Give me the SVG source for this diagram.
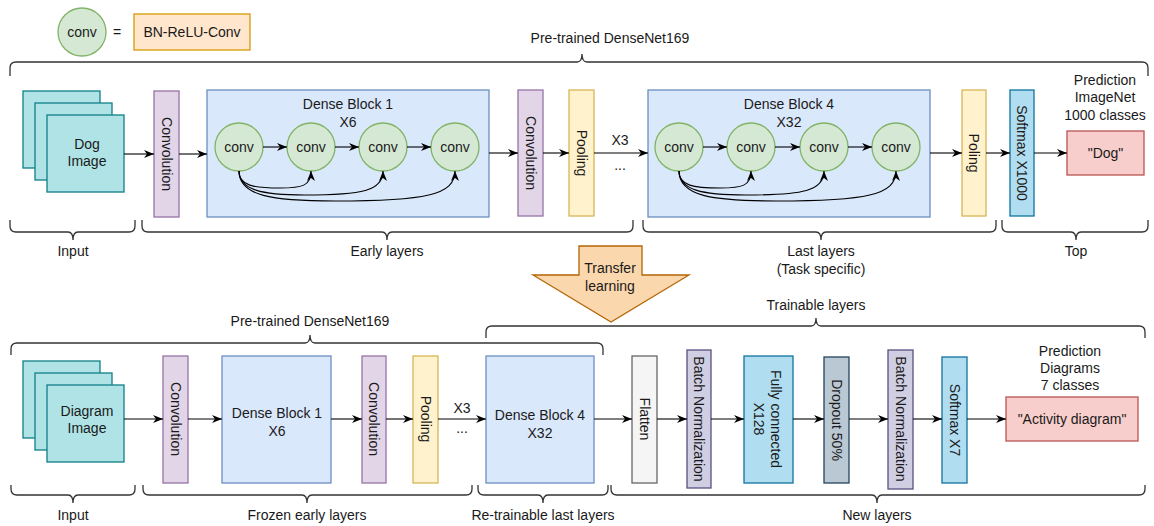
<svg xmlns="http://www.w3.org/2000/svg" width="1154" height="526" viewBox="0 0 1154 526">
  <defs>
    <marker id="arr" markerUnits="userSpaceOnUse" markerWidth="10" markerHeight="8" refX="10" refY="4" orient="auto">
      <path d="M0,0 L10,4 L0,8 L3,4 Z" fill="#000"/>
    </marker>
    <style>
      .t { font-family: "Liberation Sans", Arial, Helvetica, sans-serif; font-size: 14px; fill: #1a1a1a; text-anchor: middle; }
      .img { fill: #b0e3e6; stroke: #0e8088; stroke-width: 1.3; }
      .conv { fill: #e1d5e7; stroke: #9673a6; stroke-width: 1.3; }
      .dense { fill: #dae8fc; stroke: #6c8ebf; stroke-width: 1.3; }
      .cell { fill: #d5e8d4; stroke: #82b366; stroke-width: 1.3; }
      .pool { fill: #fff2cc; stroke: #d6b656; stroke-width: 1.3; }
      .legend { fill: #ffe6cc; stroke: #d79b00; stroke-width: 1.3; }
      .soft { fill: #b1ddf0; stroke: #10739e; stroke-width: 1.3; }
      .out { fill: #f8cecc; stroke: #b85450; stroke-width: 1.3; }
      .flat { fill: #f5f5f5; stroke: #666666; stroke-width: 1.3; }
      .bn { fill: #d0cee2; stroke: #56517e; stroke-width: 1.3; }
      .drop { fill: #bac8d3; stroke: #23445d; stroke-width: 1.3; }
      .brace { fill: none; stroke: #333333; stroke-width: 1.3; }
      .edge { fill: none; stroke: #000; stroke-width: 1.1; marker-end: url(#arr); }
    </style>
  </defs>

  <rect width="1154" height="526" fill="#ffffff"/>

  <!-- legend -->
  <g id="legend">
    <circle class="cell" cx="82" cy="32" r="24"/>
    <text class="t" x="82" y="37">conv</text>
    <text class="t" x="117" y="37">=</text>
    <rect class="legend" x="134" y="14" width="116" height="36"/>
    <text class="t" x="192" y="37">BN-ReLU-Conv</text>
  </g>

  <!-- ===== top row: DenseNet169 on ImageNet ===== -->
  <g id="brace-pretrained-top">
    <path class="brace" d="M10,76 L10,68 Q10,62 16,62 L577,62 Q582,62 582,54 Q582,62 587,62 L1142,62 Q1148,62 1148,68 L1148,76"/>
    <text class="t" x="610" y="43">Pre-trained DenseNet169</text>
  </g>

  <g id="dog-image">
    <rect class="img" x="23" y="91" width="77" height="77"/>
    <rect class="img" x="35" y="103" width="77" height="77"/>
    <rect class="img" x="47" y="115" width="77" height="77"/>
    <text class="t" x="87" y="149">Dog</text>
    <text class="t" x="87" y="166">Image</text>
  </g>

  <g id="top-conv1">
    <rect class="conv" x="154" y="91" width="25" height="126"/>
    <text class="t" transform="translate(166.5,154) rotate(90)" y="5">Convolution</text>
  </g>

  <g id="top-dense1">
    <rect class="dense" x="207" y="90" width="282" height="127"/>
    <text class="t" x="348" y="109">Dense Block 1</text>
    <text class="t" x="348" y="127">X6</text>
    <g id="d1-c1"><circle class="cell" cx="239" cy="147" r="24"/><text class="t" x="239" y="152">conv</text></g>
    <g id="d1-c2"><circle class="cell" cx="311" cy="147" r="24"/><text class="t" x="311" y="152">conv</text></g>
    <g id="d1-c3"><circle class="cell" cx="383" cy="147" r="24"/><text class="t" x="383" y="152">conv</text></g>
    <g id="d1-c4"><circle class="cell" cx="455" cy="147" r="24"/><text class="t" x="455" y="152">conv</text></g>
  </g>

  <g id="top-conv2">
    <rect class="conv" x="518" y="90" width="25" height="126"/>
    <text class="t" transform="translate(530.5,153) rotate(90)" y="5">Convolution</text>
  </g>

  <g id="top-pool">
    <rect class="pool" x="569" y="90" width="25" height="126"/>
    <text class="t" transform="translate(581.5,153) rotate(90)" y="5">Pooling</text>
  </g>

  <g id="top-repeat">
    <text class="t" x="620" y="145">X3</text>
    <text class="t" x="620" y="170">...</text>
  </g>

  <g id="top-dense4">
    <rect class="dense" x="648" y="90" width="282" height="127"/>
    <text class="t" x="789" y="109">Dense Block 4</text>
    <text class="t" x="789" y="127">X32</text>
    <g id="d4-c1"><circle class="cell" cx="679" cy="147" r="24"/><text class="t" x="679" y="152">conv</text></g>
    <g id="d4-c2"><circle class="cell" cx="751" cy="147" r="24"/><text class="t" x="751" y="152">conv</text></g>
    <g id="d4-c3"><circle class="cell" cx="824" cy="147" r="24"/><text class="t" x="824" y="152">conv</text></g>
    <g id="d4-c4"><circle class="cell" cx="896" cy="147" r="24"/><text class="t" x="896" y="152">conv</text></g>
  </g>

  <g id="top-poling">
    <rect class="pool" x="962" y="90" width="24" height="126"/>
    <text class="t" transform="translate(974,153) rotate(90)" y="5">Poling</text>
  </g>

  <g id="top-softmax">
    <rect class="soft" x="1010" y="90" width="24" height="126"/>
    <text class="t" transform="translate(1022,153) rotate(90)" y="5">Softmax X1000</text>
  </g>

  <g id="top-prediction">
    <text class="t" x="1105" y="85">Prediction</text>
    <text class="t" x="1105" y="102">ImageNet</text>
    <text class="t" x="1105" y="120">1000 classes</text>
    <rect class="out" x="1067" y="131" width="77" height="44"/>
    <text class="t" x="1105.5" y="158">"Dog"</text>
  </g>

  <g id="top-braces">
    <path class="brace" d="M10,220 L10,226 Q10,232 16,232 L68,232 Q73,232 73,240 Q73,232 78,232 L129,232 Q135,232 135,226 L135,220"/>
    <text class="t" x="73" y="256">Input</text>
    <path class="brace" d="M142,220 L142,226 Q142,232 148,232 L382,232 Q387,232 387,240 Q387,232 392,232 L627,232 Q633,232 633,226 L633,220"/>
    <text class="t" x="387" y="256">Early layers</text>
    <path class="brace" d="M643,220 L643,226 Q643,232 649,232 L816,232 Q821,232 821,240 Q821,232 826,232 L990,232 Q996,232 996,226 L996,220"/>
    <text class="t" x="821" y="256">Last layers</text>
    <text class="t" x="821" y="274">(Task specific)</text>
    <path class="brace" d="M1002,220 L1002,226 Q1002,232 1008,232 L1071,232 Q1076,232 1076,240 Q1076,232 1081,232 L1142,232 Q1148,232 1148,226 L1148,220"/>
    <text class="t" x="1076" y="256">Top</text>
  </g>

  <!-- transfer learning arrow -->
  <g id="transfer">
    <polygon points="579,246 642,246 642,275 689,275 611,322 533,275 579,275" fill="#fad7ac" stroke="#b46504" stroke-width="1.3"/>
    <text class="t" x="610" y="273">Transfer</text>
    <text class="t" x="610" y="291">learning</text>
  </g>

  <!-- ===== bottom row: fine-tuned model for diagrams ===== -->
  <g id="brace-trainable">
    <path class="brace" d="M486,338 L486,332 Q486,326 492,326 L811,326 Q816,326 816,318 Q816,326 821,326 L1139,326 Q1145,326 1145,332 L1145,338"/>
    <text class="t" x="816" y="310">Trainable layers</text>
  </g>

  <g id="brace-pretrained-bottom">
    <path class="brace" d="M11,355 L11,349 Q11,343 17,343 L305,343 Q310,343 310,335 Q310,343 315,343 L597,343 Q603,343 603,349 L603,355"/>
    <text class="t" x="310" y="326">Pre-trained DenseNet169</text>
  </g>

  <g id="diagram-image">
    <rect class="img" x="23" y="361" width="77" height="77"/>
    <rect class="img" x="35" y="373" width="77" height="77"/>
    <rect class="img" x="47" y="385" width="77" height="77"/>
    <text class="t" x="87" y="416">Diagram</text>
    <text class="t" x="87" y="433">Image</text>
  </g>

  <g id="bot-conv1">
    <rect class="conv" x="163" y="356" width="25" height="127"/>
    <text class="t" transform="translate(175.5,419) rotate(90)" y="5">Convolution</text>
  </g>

  <g id="bot-dense1">
    <rect class="dense" x="222" y="356" width="109" height="127"/>
    <text class="t" x="277" y="418">Dense Block 1</text>
    <text class="t" x="277" y="436">X6</text>
  </g>

  <g id="bot-conv2">
    <rect class="conv" x="362" y="356" width="24" height="127"/>
    <text class="t" transform="translate(374,419) rotate(90)" y="5">Convolution</text>
  </g>

  <g id="bot-pool">
    <rect class="pool" x="413" y="356" width="25" height="127"/>
    <text class="t" transform="translate(425.5,419) rotate(90)" y="5">Pooling</text>
  </g>

  <g id="bot-repeat">
    <text class="t" x="462" y="413">X3</text>
    <text class="t" x="462" y="433">...</text>
  </g>

  <g id="bot-dense4">
    <rect class="dense" x="486" y="356" width="108" height="127"/>
    <text class="t" x="540" y="420">Dense Block 4</text>
    <text class="t" x="540" y="438">X32</text>
  </g>

  <g id="flatten">
    <rect class="flat" x="632" y="356" width="25" height="127"/>
    <text class="t" transform="translate(644.5,419) rotate(90)" y="5">Flatten</text>
  </g>

  <g id="batchnorm1">
    <rect class="bn" x="687" y="350" width="24" height="138"/>
    <text class="t" transform="translate(699,419) rotate(90)" y="5">Batch Normalization</text>
  </g>

  <g id="dense-128">
    <rect class="soft" x="744" y="356" width="49" height="127"/>
    <text class="t" transform="translate(768.5,419) rotate(90)" y="-2">Fully connected</text>
    <text class="t" transform="translate(768.5,419) rotate(90)" y="15">X128</text>
  </g>

  <g id="dropout">
    <rect class="drop" x="824" y="357" width="25" height="126"/>
    <text class="t" transform="translate(836.5,420) rotate(90)" y="5">Dropout 50%</text>
  </g>

  <g id="batchnorm2">
    <rect class="bn" x="888" y="350" width="25" height="139"/>
    <text class="t" transform="translate(900.5,419) rotate(90)" y="5">Batch Normalization</text>
  </g>

  <g id="softmax-7">
    <rect class="soft" x="942" y="357" width="25" height="126"/>
    <text class="t" transform="translate(954.5,420) rotate(90)" y="5">Softmax X7</text>
  </g>

  <g id="bot-prediction">
    <text class="t" x="1070" y="356">Prediction</text>
    <text class="t" x="1070" y="373">Diagrams</text>
    <text class="t" x="1070" y="390">7 classes</text>
    <rect class="out" x="1006" y="397" width="132" height="44"/>
    <text class="t" x="1072" y="424">"Activity diagram"</text>
  </g>

  <g id="bottom-braces">
    <path class="brace" d="M11,485 L11,489 Q11,495 17,495 L68,495 Q73,495 73,503 Q73,495 78,495 L129,495 Q135,495 135,489 L135,485"/>
    <text class="t" x="73" y="520">Input</text>
    <path class="brace" d="M143,485 L143,489 Q143,495 149,495 L302,495 Q307,495 307,503 Q307,495 312,495 L466,495 Q472,495 472,489 L472,485"/>
    <text class="t" x="307" y="520">Frozen early layers</text>
    <path class="brace" d="M478,485 L478,489 Q478,495 484,495 L538,495 Q543,495 543,503 Q543,495 548,495 L602,495 Q608,495 608,489 L608,485"/>
    <text class="t" x="543" y="520">Re-trainable last layers</text>
    <path class="brace" d="M611,485 L611,489 Q611,495 617,495 L872,495 Q877,495 877,503 Q877,495 882,495 L1139,495 Q1145,495 1145,489 L1145,485"/>
    <text class="t" x="877" y="520">New layers</text>
  </g>

  <!-- connectors -->
  <g id="connectors">
    <!-- top row -->
    <path class="edge" d="M124,154 L154,154"/>
    <path class="edge" d="M179,154 L207,154"/>
    <path class="edge" d="M263,147 L287,147"/>
    <path class="edge" d="M335,147 L359,147"/>
    <path class="edge" d="M407,147 L431,147"/>
    <path class="edge" d="M239,171 C239,186 254,188 280,188 C302,188 311,186 311,171"/>
    <path class="edge" d="M239,171 C239,190 262,195 305,195 C362,195 383,191 383,171"/>
    <path class="edge" d="M239,171 C239,196 272,201 335,201 C425,201 455,195 455,171"/>
    <path class="edge" d="M489,153 L518,153"/>
    <path class="edge" d="M543,153 L569,153"/>
    <path class="edge" d="M594,153 L648,153"/>
    <path class="edge" d="M703,147 L727,147"/>
    <path class="edge" d="M775,147 L800,147"/>
    <path class="edge" d="M848,147 L872,147"/>
    <path class="edge" d="M679,171 C679,186 694,188 720,188 C742,188 751,186 751,171"/>
    <path class="edge" d="M679,171 C679,190 702,195 746,195 C803,195 824,191 824,171"/>
    <path class="edge" d="M679,171 C679,196 712,201 776,201 C866,201 896,195 896,171"/>
    <path class="edge" d="M930,153 L962,153"/>
    <path class="edge" d="M986,153 L1010,153"/>
    <path class="edge" d="M1034,153 L1067,153"/>
    <!-- bottom row -->
    <path class="edge" d="M124,419 L163,419"/>
    <path class="edge" d="M188,419 L222,419"/>
    <path class="edge" d="M331,419 L362,419"/>
    <path class="edge" d="M386,419 L413,419"/>
    <path class="edge" d="M438,419 L486,419"/>
    <path class="edge" d="M594,419 L632,419"/>
    <path class="edge" d="M657,419 L687,419"/>
    <path class="edge" d="M711,419 L744,419"/>
    <path class="edge" d="M793,419 L824,419"/>
    <path class="edge" d="M849,419 L888,419"/>
    <path class="edge" d="M913,419 L942,419"/>
    <path class="edge" d="M967,419 L1006,419"/>
  </g>
</svg>
